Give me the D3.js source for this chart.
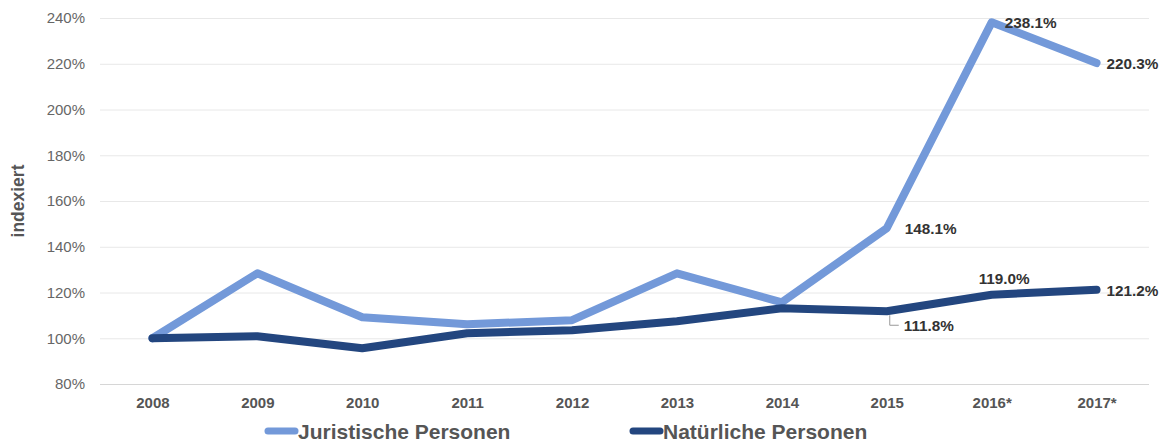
<!DOCTYPE html>
<html>
<head>
<meta charset="utf-8">
<script src="https://cdn.jsdelivr.net/npm/d3@7"></script>
<style>
  body { margin: 0; background: #fff; }
  svg { font-family: "Liberation Sans", Arial, sans-serif; display: block; }
</style>
</head>
<body>
<svg width="1168" height="443"></svg>
<script>
var years = ['2008', '2009', '2010', '2011', '2012', '2013', '2014', '2015', '2016*', '2017*'];
var juristische = [100, 128.4, 109.2, 106.1, 107.9, 128.4, 115.7, 148.1, 238.1, 220.3];
var natuerliche = [100, 100.9, 95.6, 102.2, 103.5, 107.4, 113.1, 111.8, 119.0, 121.2];
var yTicks = [80, 100, 120, 140, 160, 180, 200, 220, 240];
var seriesNames = ['Juristische Personen', 'Natürliche Personen'];
var colors = ['#7399d9', '#23467f'];

var width = 1168;
var height = 443;
var margin = { top: 18, bottom: 59, left: 100, right: 19 };

var svg = d3.select('svg');

// scales ---------------------------------------------------------------
var xScale = d3.scalePoint()
  .domain(years)
  .range([margin.left, width - margin.right])
  .padding(0.5);
var yScale = d3.scaleLinear()
  .domain([80, 240])
  .range([height - margin.bottom, margin.top]);

// grid
svg.append('g')
  .selectAll('line')
  .data(yTicks)
  .join('line')
  .attr('x1', margin.left)
  .attr('x2', width - margin.right)
  .attr('y1', d => yScale(d) + 0.5)
  .attr('y2', d => yScale(d) + 0.5)
  .attr('stroke', d => d === 80 ? '#d6d6d6' : '#e8e8e8')
  .attr('stroke-width', 1);

// y axis labels
var yAxis = d3.axisLeft(yScale)
  .tickValues(yTicks)
  .tickFormat(d => d + '%')
  .tickSize(0)
  .tickPadding(0);
var gy = svg.append('g')
  .attr('transform', 'translate(' + (margin.left - 15) + ',0)')
  .call(yAxis);
gy.select('.domain').remove();
gy.selectAll('text')
  .attr('fill', '#666')
  .attr('font-size', 15)
  .attr('font-family', '"Liberation Sans", Arial, sans-serif');

// x axis labels
var xAxis = d3.axisBottom(xScale).tickSize(0).tickPadding(0);
var gx = svg.append('g')
  .attr('transform', 'translate(0,' + (height - margin.bottom + 13) + ')')
  .call(xAxis);
gx.select('.domain').remove();
gx.selectAll('text')
  .attr('fill', '#555')
  .attr('font-size', 15)
  .attr('font-weight', 'bold')
  .attr('font-family', '"Liberation Sans", Arial, sans-serif');

// y title
svg.append('text')
  .attr('transform', 'translate(24,' + yScale(160) + ') rotate(-90)')
  .attr('text-anchor', 'middle')
  .attr('font-size', 17.5)
  .attr('font-weight', 'bold')
  .attr('fill', '#555')
  .text('indexiert');

// lines
var line = d3.line()
  .x((d, i) => xScale(years[i]))
  .y(d => yScale(d));

[juristische, natuerliche].forEach((data, k) => {
  svg.append('path')
    .attr('d', line(data))
    .attr('fill', 'none')
    .attr('stroke', colors[k])
    .attr('stroke-width', 8)
    .attr('stroke-linejoin', 'round')
    .attr('stroke-linecap', 'round');
});

// data labels
var labels = [
  { data: juristische, i: 7, dx: 18, dy: 6 },
  { data: juristische, i: 8, dx: 13, dy: 6 },
  { data: juristische, i: 9, dx: 10, dy: 6 },
  { data: natuerliche, i: 7, dx: 17, dy: 20, leader: true },
  { data: natuerliche, i: 8, dx: -13, dy: -11 },
  { data: natuerliche, i: 9, dx: 10, dy: 6 }
];
labels.forEach(l => {
  var x = xScale(years[l.i]);
  var y = yScale(l.data[l.i]);
  if (l.leader) {
    svg.append('path')
      .attr('d', 'M' + (x + 3) + ',' + (y + 4) + 'V' + (y + 14) + 'H' + (x + 12))
      .attr('fill', 'none')
      .attr('stroke', '#999')
      .attr('stroke-width', 1);
  }
  svg.append('text')
    .attr('x', x + l.dx)
    .attr('y', y + l.dy)
    .attr('font-size', 15.3)
    .attr('font-weight', 'bold')
    .attr('fill', '#333')
    .text(l.data[l.i].toFixed(1) + '%');
});

// legend
var legendX = [265, 630];
seriesNames.forEach((name, k) => {
  var g = svg.append('g').attr('transform', 'translate(' + legendX[k] + ',431)');
  g.append('line')
    .attr('x1', 3).attr('x2', 30)
    .attr('y1', 0).attr('y2', 0)
    .attr('stroke', colors[k])
    .attr('stroke-width', 7)
    .attr('stroke-linecap', 'round');
  g.append('text')
    .attr('x', 33)
    .attr('y', 7.5)
    .attr('font-size', 21)
    .attr('font-weight', 'bold')
    .attr('fill', '#555')
    .text(name);
});
</script>
</body>
</html>
